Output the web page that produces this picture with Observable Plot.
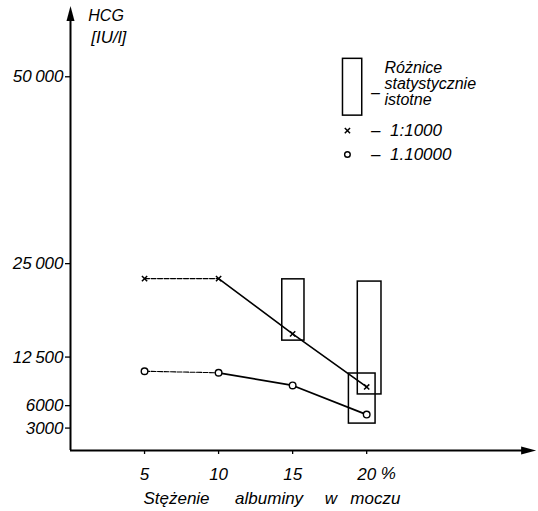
<!DOCTYPE html>
<html><head><meta charset="utf-8">
<script src="https://cdn.jsdelivr.net/npm/d3@7"></script>
<script src="https://cdn.jsdelivr.net/npm/@observablehq/plot@0.6"></script>
<style>body{margin:0;background:#fff}</style>
</head><body><div id="chart"></div>
<script>
// Albumin concentration in urine (%)
const concentrations = [5, 10, 15, 20];
// HCG [IU/l] at dilution 1:1000 and 1:10000
const hcg1000 = [23000, 23000, 15600, 8500];
const hcg10000 = [10600, 10400, 8700, 4800];
// statistically significant difference boxes (x range in %, y range in IU/l)
const boxX1 = [14.3, 19.4, 18.8];
const boxX2 = [15.8, 21.0, 20.6];
const boxY1 = [14700, 7500, 3600];
const boxY2 = [22900, 22600, 10300];
// tick labels
const yTicks = [3000, 6000, 12500, 25000, 50000];
const yTickLabels = ["3000", "6000", "12\u2009500", "25\u2009000", "50\u2009000"];
const xTicks = [5, 10, 15, 20];

const s1 = concentrations.map((c, i) => ({x: c, y: hcg1000[i]}));
const s2 = concentrations.map((c, i) => ({x: c, y: hcg10000[i]}));
const boxes = boxX1.map((_, i) => ({x1: boxX1[i], x2: boxX2[i], y1: boxY1[i], y2: boxY2[i]}));
const yLab = new Map(yTicks.map((t, i) => [t, yTickLabels[i]]));

const arrowUp = {draw(ctx) { ctx.moveTo(0, -11); ctx.lineTo(4, 4); ctx.lineTo(-4, 4); ctx.closePath(); }};
const font = "Liberation Sans, Arial, sans-serif";

const chart = Plot.plot({
  width: 538, height: 511,
  marginLeft: 70, marginRight: 3, marginTop: 9, marginBottom: 61,
  x: {domain: [0, 31.4]},
  y: {domain: [0, 59000]},
  style: {fontFamily: font, fontStyle: "italic", fontSize: "17px", color: "black", background: "white"},
  marks: [
    Plot.axisY({ticks: yTicks, tickFormat: d => yLab.get(d), tickSize: 5, tickPadding: 2, fontSize: 17, stroke: "black", strokeWidth: 1.3}),
    Plot.axisX({ticks: xTicks, tickSize: 4, tickPadding: 13, fontSize: 17, label: null, stroke: "black", strokeWidth: 1.3}),
    Plot.ruleX([0], {y1: 0, y2: 58000, stroke: "black", strokeWidth: 2}),
    Plot.ruleY([0], {x1: 0, x2: 30.7, stroke: "black", strokeWidth: 2}),
    Plot.dot([0], {x: 0, y: 58000, symbol: arrowUp, fill: "black", stroke: "none"}),
    Plot.dot([0], {x: 30.7, y: 0, symbol: arrowUp, rotate: 90, fill: "black", stroke: "none"}),
    // significance boxes
    Plot.rect(boxes, {x1: "x1", x2: "x2", y1: "y1", y2: "y2", fill: "none", stroke: "black", strokeWidth: 1.5}),
    // series lines
    Plot.line(s1.slice(0, 2), {x: "x", y: "y", stroke: "black", strokeWidth: 1.1, strokeDasharray: "5,1.5"}),
    Plot.line(s1.slice(1), {x: "x", y: "y", stroke: "black", strokeWidth: 1.6}),
    Plot.line(s2.slice(0, 2), {x: "x", y: "y", stroke: "black", strokeWidth: 1.1, strokeDasharray: "5,1.5"}),
    Plot.line(s2.slice(1), {x: "x", y: "y", stroke: "black", strokeWidth: 1.8}),
    Plot.dot(s1, {x: "x", y: "y", symbol: "times", r: 2.5, stroke: "black", strokeWidth: 1.5}),
    Plot.dot(s2, {x: "x", y: "y", symbol: "circle", r: 3.3, fill: "white", stroke: "black", strokeWidth: 1.4}),
    // axis titles
    Plot.text(["HCG"], {x: 1.2, y: 58200, text: d => d, textAnchor: "start", fontSize: 16}),
    Plot.text(["[IU/l]"], {x: 1.4, y: 55200, text: d => d, textAnchor: "start", fontSize: 17}),
    Plot.text(["%"], {x: 20.95, y: -3100, text: d => d, textAnchor: "start", fontSize: 17}),
    Plot.text(["Stężenie\u2003\u2002albuminy\u2003 w\u2002 moczu"], {x: 13.6, y: -6400, text: d => d, fontSize: 17}),
    // legend
    Plot.rect([0], {x1: 18.4, x2: 19.7, y1: 44800, y2: 52400, fill: "none", stroke: "black", strokeWidth: 1.5}),
    Plot.text(["–"], {x: 20.3, y: 47900, text: d => d, textAnchor: "start", fontSize: 16}),
    Plot.text(["Różnice\nstatystycznie\nistotne"], {x: 21.2, y: 49000, text: d => d, textAnchor: "start", fontSize: 16, lineHeight: 1.0}),
    Plot.dot([0], {x: 18.7, y: 42800, symbol: "times", r: 2.5, stroke: "black", strokeWidth: 1.5}),
    Plot.dot([0], {x: 18.7, y: 39600, symbol: "circle", r: 2.8, fill: "white", stroke: "black", strokeWidth: 1.4}),
    Plot.text(["–  1:1000"], {x: 20.3, y: 42800, text: d => d, textAnchor: "start", fontSize: 17}),
    Plot.text(["–  1.10000"], {x: 20.3, y: 39600, text: d => d, textAnchor: "start", fontSize: 17})
  ]
});
document.getElementById("chart").append(chart);
</script>
</body></html>
